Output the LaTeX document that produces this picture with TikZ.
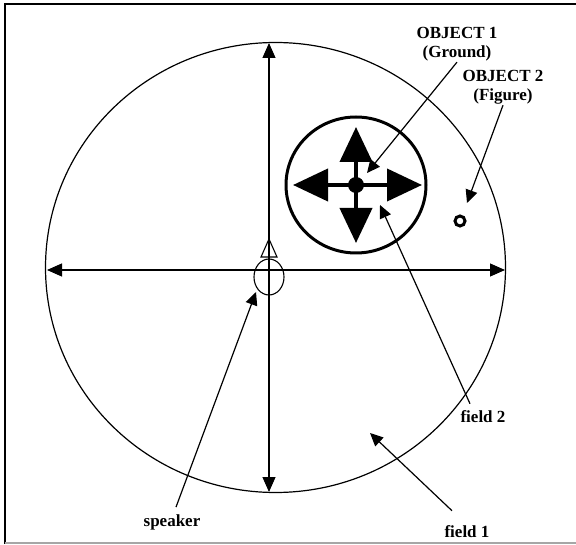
\documentclass[tikz,border=0pt]{standalone}
\usepackage{fontspec}
\setmainfont{Liberation Serif}
\usetikzlibrary{arrows.meta}
\begin{document}
\begin{tikzpicture}[x=1pt,y=-1pt,
  lbl/.style={font=\fontsize{17}{19}\selectfont\bfseries, align=center, inner sep=1pt},
  axis/.style={line width=1.1pt, {Triangle[length=15pt,width=13pt]}-{Triangle[length=15pt,width=13pt]}},
  lead/.style={line width=1.2pt, -{Triangle[length=13pt,width=12pt]}},
  bigarrow/.style={line width=4pt, -{Triangle[length=35pt,width=32pt]}}
]
\useasboundingbox (0,0) rectangle (576,545);
% frame
\draw[line width=2pt] (5,544) -- (5,4) -- (576,4);
\draw[line width=2pt, gray!70] (5,543) -- (576,543);
% field 1 circle
\draw[line width=1.2pt] (275.5,267.5) ellipse [x radius=230, y radius=225];
% axes
\coordinate (top) at (269,43);
\coordinate (bot) at (269,492);
\coordinate (lft) at (47,270);
\coordinate (rgt) at (505,270);
\draw[axis] (bot) -- (top);
\draw[axis] (lft) -- (rgt);
% speaker
\draw[line width=1.1pt] (269,277) ellipse [x radius=15, y radius=18];
\draw[line width=1.1pt] (261,257) -- (269,239) -- (277,257) -- cycle;
% object 1 (ground)
\coordinate (g) at (356,185);
\draw[line width=3pt] (g) ellipse [x radius=70, y radius=68];
\draw[bigarrow] (g) -- (356,127);
\draw[bigarrow] (g) -- (356,243);
\draw[bigarrow] (g) -- (293,185);
\draw[bigarrow] (g) -- (422,185);
\fill (g) circle (8);
% object 2 (figure)
\draw[line width=3pt] (460,221) circle (5);
% labels
\node[lbl] (o1) at (457,44) {OBJECT 1\\(Ground)};
\node[lbl] (o2) at (503,87) {OBJECT 2\\(Figure)};
\node[lbl] (f2) at (483,417) {field 2};
\node[lbl] (f1) at (467,532) {field 1};
\node[lbl] (sp) at (172,522) {speaker};
% leaders
\coordinate (t1) at (367,173);
\coordinate (t2) at (467,203);
\coordinate (t3) at (380,205);
\coordinate (t4) at (370,433);
\coordinate (t5) at (256,292);
\draw[lead] (o1.south) -- (t1);
\draw[lead] (o2.south) -- (t2);
\draw[lead] ([xshift=-13pt,yshift=6pt]f2.north) -- (t3);
\draw[lead] ([xshift=-15pt,yshift=14pt]f1.north) -- (t4);
\draw[lead] ([xshift=4pt,yshift=6pt]sp.north) -- (t5);
\end{tikzpicture}
\end{document}
